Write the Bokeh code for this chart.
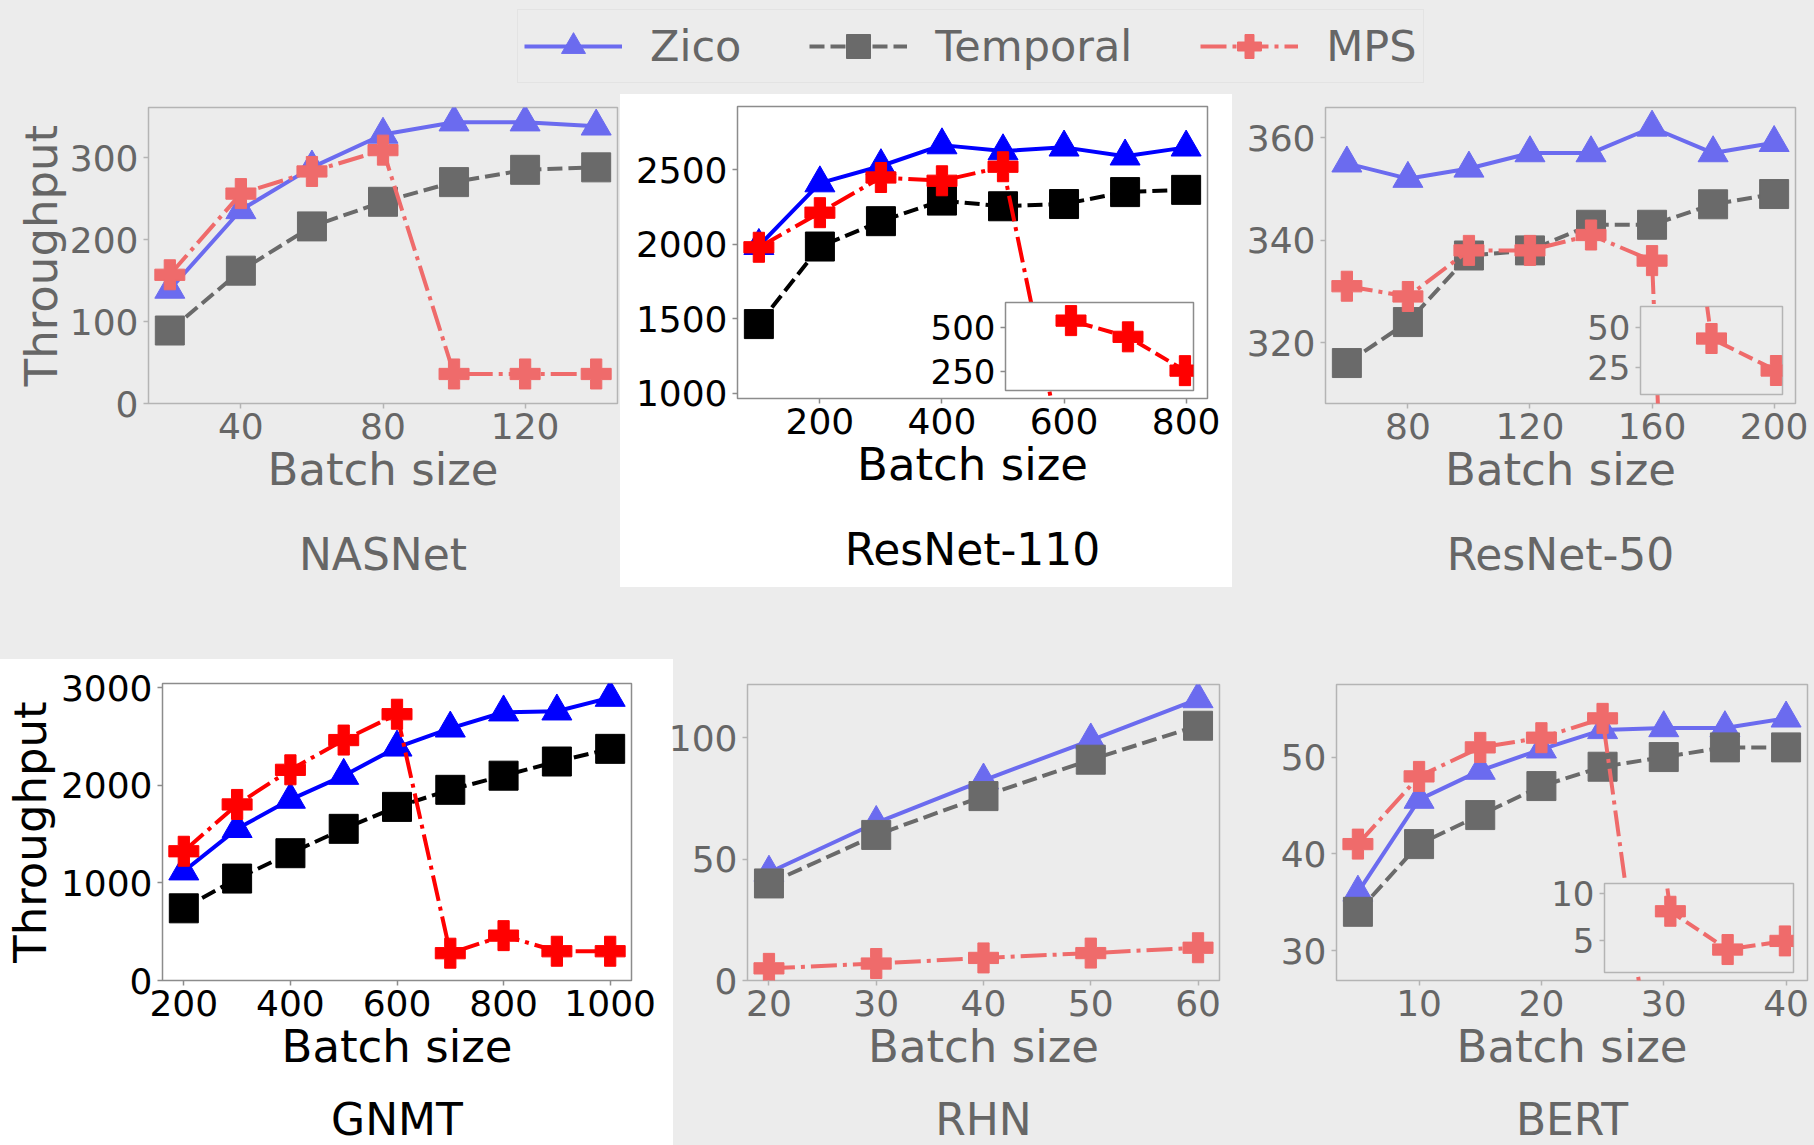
from bokeh.plotting import figure
from bokeh.models import Column, Legend, LegendItem, Title, FixedTicker, Range1d, Spacer
from bokeh.embed import file_html
from bokeh.resources import INLINE

# ---------------- data ----------------
series_names = ["Zico", "Temporal", "MPS"]

nas_x = [20, 40, 60, 80, 100, 120, 140]
nas_zico = [139, 236, 288, 328, 343, 343, 338]
nas_temporal = [89, 162, 216, 246, 270, 285, 288]
nas_mps = [157, 256, 283, 309, 36, 36, 36]

r110_x = [100, 200, 300, 400, 500, 600, 700, 800]
r110_zico = [1990, 2410, 2525, 2665, 2625, 2650, 2590, 2650]
r110_temporal = [1465, 1985, 2155, 2293, 2255, 2270, 2350, 2365]
r110_mps = [1980, 2212, 2448, 2426, 2520, 540, 447, 253]

r50_x = [60, 80, 100, 120, 140, 160, 180, 200]
r50_zico = [355, 352, 354, 357, 357, 362, 357, 359]
r50_temporal = [316, 324, 337, 338, 343, 343, 347, 349]
r50_mps = [331, 329, 338, 338, 341, 336, 43, 23]

gnmt_x = [200, 300, 400, 500, 600, 700, 800, 900, 1000]
gnmt_zico = [1120, 1555, 1855, 2100, 2390, 2585, 2750, 2760, 2900]
gnmt_temporal = [740, 1045, 1305, 1555, 1780, 1955, 2100, 2245, 2375]
gnmt_mps = [1325, 1805, 2160, 2465, 2730, 280, 460, 300, 300]

rhn_x = [20, 30, 40, 50, 60]
rhn_zico = [44.5, 65, 82.5, 99, 116]
rhn_temporal = [40, 60, 76, 91, 105]
rhn_mps = [5, 7, 9.3, 11.3, 13.5]

bert_x = [5, 10, 15, 20, 25, 30, 35, 40]
bert_zico = [36, 45.6, 48.6, 50.8, 52.8, 53, 53, 54]
bert_temporal = [34, 41, 44, 47, 49, 50, 51, 51]
bert_mps = [41, 48, 51, 52, 54, 8.1, 4.1, 5.0]

# tick labels
nas_xticks, nas_yticks = [40, 80, 120], [0, 100, 200, 300]
r110_xticks, r110_yticks = [200, 400, 600, 800], [1000, 1500, 2000, 2500]
r110_inset_yticks = [250, 500]
r50_xticks, r50_yticks = [80, 120, 160, 200], [320, 340, 360]
r50_inset_yticks = [25, 50]
gnmt_xticks, gnmt_yticks = [200, 400, 600, 800, 1000], [0, 1000, 2000, 3000]
rhn_xticks, rhn_yticks = [20, 30, 40, 50, 60], [0, 50, 100]
bert_xticks, bert_yticks = [10, 20, 30, 40], [30, 40, 50]
bert_inset_yticks = [5, 10]

# ---------------- styles ----------------
FONT = "DejaVu Sans"
PAGE_BG = "#ececec"
FADED = dict(zico="#6b6bef", temporal="#6a6a6a", mps="#ef6b6b", text="#666666",
             frame="#b4b4b4", bg=PAGE_BG)
SOLID = dict(zico="#0000ff", temporal="#000000", mps="#ff0000", text="#000000",
             frame="#8c8c8c", bg="#ffffff")
DASH = "15 6"
DASHDOT = "26 6 4 6"


def pos_style(left, top, extra=None):
    s = {"position": "absolute", "left": f"{left}px", "top": f"{top}px"}
    if extra:
        s.update(extra)
    return s


def make_fig(rect, frame, xr, yr, xticks, yticks, st, tick_size="36px"):
    x0, y0, x1, y1 = rect
    fl, ft, fr, fb = frame
    p = figure(width=x1 - x0, height=y1 - y0, x_range=Range1d(*xr), y_range=Range1d(*yr),
               output_backend="svg", toolbar_location=None,
               min_border_left=fl - x0, min_border_right=x1 - fr,
               min_border_top=ft - y0, min_border_bottom=y1 - fb)
    p.frame_align = False
    p.grid.visible = False
    p.background_fill_color = st["bg"]
    p.border_fill_color = None
    p.outline_line_color = st["frame"]
    p.outline_line_width = 1.5
    p.xaxis.ticker = FixedTicker(ticks=xticks)
    p.yaxis.ticker = FixedTicker(ticks=yticks)
    for ax in (p.xaxis[0], p.yaxis[0]):
        ax.axis_line_color = None
        ax.major_tick_line_color = st["frame"]
        ax.major_tick_line_width = 1.5
        ax.major_tick_out = 5
        ax.major_tick_in = 0
        ax.minor_tick_line_color = None
        ax.major_label_text_font = FONT
        ax.major_label_text_font_size = tick_size
        ax.major_label_text_color = st["text"]
        ax.axis_label_text_font = FONT
        ax.axis_label_text_font_size = "45px"
        ax.axis_label_text_font_style = "normal"
        ax.axis_label_text_color = st["text"]
    p.xaxis.major_label_standoff = 4
    p.yaxis.major_label_standoff = 5
    p.styles = pos_style(x0, y0)
    return p


def draw_series(p, x, ys, st):
    z, t, m = ys
    p.line(x, z, line_color=st["zico"], line_width=4, line_join="round")
    p.scatter(x, z, marker="triangle", size=30, fill_color=st["zico"], line_color=st["zico"], line_width=1)
    p.line(x, t, line_color=st["temporal"], line_width=4, line_dash=DASH, line_join="round")
    p.scatter(x, t, marker="square", size=29, fill_color=st["temporal"], line_color=st["temporal"], line_width=1)
    p.line(x, m, line_color=st["mps"], line_width=4, line_dash=DASHDOT, line_join="round")
    p.scatter(x, m, marker="plus", size=30, fill_color=st["mps"], line_color=st["mps"], line_width=1)


def panel(rect, frame, xr, yr, xticks, yticks, x, ys, st, name, title_standoff,
          ylabel=None, ylabel_standoff=0):
    p = make_fig(rect, frame, xr, yr, xticks, yticks, st)
    p.xaxis.axis_label = "Batch size"
    p.xaxis.axis_label_standoff = 1
    if ylabel:
        p.yaxis.axis_label = ylabel
        p.yaxis.axis_label_standoff = ylabel_standoff
    draw_series(p, x, ys, st)
    p.add_layout(Title(text=name, align="center", text_font=FONT, text_font_size="44px",
                       text_font_style="normal", text_color=st["text"],
                       standoff=title_standoff), "below")
    return p


def inset(rect, frame, xr, yr, yticks, x, y, st):
    p = make_fig(rect, frame, xr, yr, [], yticks, st, tick_size="34px")
    p.xaxis.visible = False
    p.line(x, y, line_color=st["mps"], line_width=4, line_dash=DASH, line_join="round")
    p.scatter(x, y, marker="plus", size=30, fill_color=st["mps"], line_color=st["mps"], line_width=1)
    return p


TOP_TS, BOT_TS = 56, 33

# white backdrops of the two highlighted panels
w_r110 = Spacer(width=612, height=493, styles=pos_style(620, 94, {"background-color": "#ffffff"}))
w_gnmt = Spacer(width=673, height=486, styles=pos_style(0, 659, {"background-color": "#ffffff"}))

p_nas = panel((0, 80, 640, 640), (148, 107, 617, 403), (14, 146), (0, 361),
              nas_xticks, nas_yticks, nas_x, (nas_zico, nas_temporal, nas_mps), FADED,
              "NASNet", TOP_TS, ylabel="Throughput", ylabel_standoff=-1)
p_r50 = panel((1232, 80, 1814, 640), (1325, 107, 1795, 403), (53, 207), (308.1, 365.9),
              r50_xticks, r50_yticks, r50_x, (r50_zico, r50_temporal, r50_mps), FADED,
              "ResNet-50", TOP_TS)
p_rhn = panel((650, 660, 1240, 1200), (747, 684, 1219, 980), (18, 62), (0, 122),
              rhn_xticks, rhn_yticks, rhn_x, (rhn_zico, rhn_temporal, rhn_mps), FADED,
              "RHN", BOT_TS)
p_bert = panel((1240, 660, 1814, 1200), (1336, 684, 1807, 980), (3.25, 41.75), (26.9, 57.5),
               bert_xticks, bert_yticks, bert_x, (bert_zico, bert_temporal, bert_mps), FADED,
               "BERT", BOT_TS)
p_r110 = panel((620, 94, 1232, 640), (737, 106, 1207, 398), (65, 835), (966, 2924),
               r110_xticks, r110_yticks, r110_x, (r110_zico, r110_temporal, r110_mps), SOLID,
               "ResNet-110", TOP_TS)
p_gnmt = panel((0, 659, 673, 1200), (161, 683, 631, 980), (160, 1040), (0, 3045),
               gnmt_xticks, gnmt_yticks, gnmt_x, (gnmt_zico, gnmt_temporal, gnmt_mps), SOLID,
               "GNMT", BOT_TS, ylabel="Throughput", ylabel_standoff=1)

i_r110 = inset((915, 292, 1198, 395), (1005, 302, 1193, 390), (485, 815), (139, 644),
               r110_inset_yticks, r110_x[4:], r110_mps[4:], SOLID)
i_r50 = inset((1575, 296, 1787, 399), (1640, 306, 1782, 394), (158, 202), (8, 63),
              r50_inset_yticks, r50_x[5:], r50_mps[5:], FADED)
i_bert = inset((1544, 873, 1798, 977), (1604, 883, 1793, 972), (24.25, 40.75), (1.7, 11),
               bert_inset_yticks, bert_x[4:], bert_mps[4:], FADED)

# ---------------- legend ----------------
# legend proxies use the NASNet series; the legend figure's ranges keep them out of view
lg = figure(width=960, height=80, output_backend="svg", toolbar_location=None,
            x_range=Range1d(0, 1), y_range=Range1d(0, 1), min_border=0,
            x_axis_location=None, y_axis_location=None)
lg.frame_align = False
lg.grid.visible = False
lg.outline_line_color = None
lg.background_fill_color = None
lg.border_fill_color = None
st = FADED
l1 = lg.line(nas_x, nas_zico, line_color=st["zico"], line_width=4)
s1 = lg.scatter(nas_x, nas_zico, marker="triangle", size=30, fill_color=st["zico"], line_color=st["zico"])
l2 = lg.line(nas_x, nas_temporal, line_color=st["temporal"], line_width=4, line_dash=DASH)
s2 = lg.scatter(nas_x, nas_temporal, marker="square", size=29, fill_color=st["temporal"], line_color=st["temporal"])
l3 = lg.line(nas_x, nas_mps, line_color=st["mps"], line_width=4, line_dash=DASHDOT)
s3 = lg.scatter(nas_x, nas_mps, marker="plus", size=30, fill_color=st["mps"], line_color=st["mps"])
legend = Legend(items=[LegendItem(label=series_names[0], renderers=[l1, s1]),
                       LegendItem(label=series_names[1], renderers=[l2, s2]),
                       LegendItem(label=series_names[2], renderers=[l3, s3])],
                orientation="horizontal", location="top_left", margin=0, padding=6,
                spacing=68, glyph_width=98, glyph_height=60, label_standoff=28,
                label_height=60, label_text_font=FONT, label_text_font_size="43px",
                label_text_color="#666666", border_line_color="#d9d9d9",
                border_line_width=1.5, background_fill_color=PAGE_BG,
                background_fill_alpha=1.0)
lg.add_layout(legend)
lg.styles = pos_style(517, 9)

root = Column(children=[w_r110, w_gnmt, p_nas, p_r50, p_rhn, p_bert, p_r110, p_gnmt,
                        i_r110, i_r50, i_bert, lg],
              width=1814, height=1145, sizing_mode="fixed",
              styles={"position": "relative", "overflow": "hidden",
                      "background-color": PAGE_BG})

open("out.html", "w").write(file_html(root, INLINE))
